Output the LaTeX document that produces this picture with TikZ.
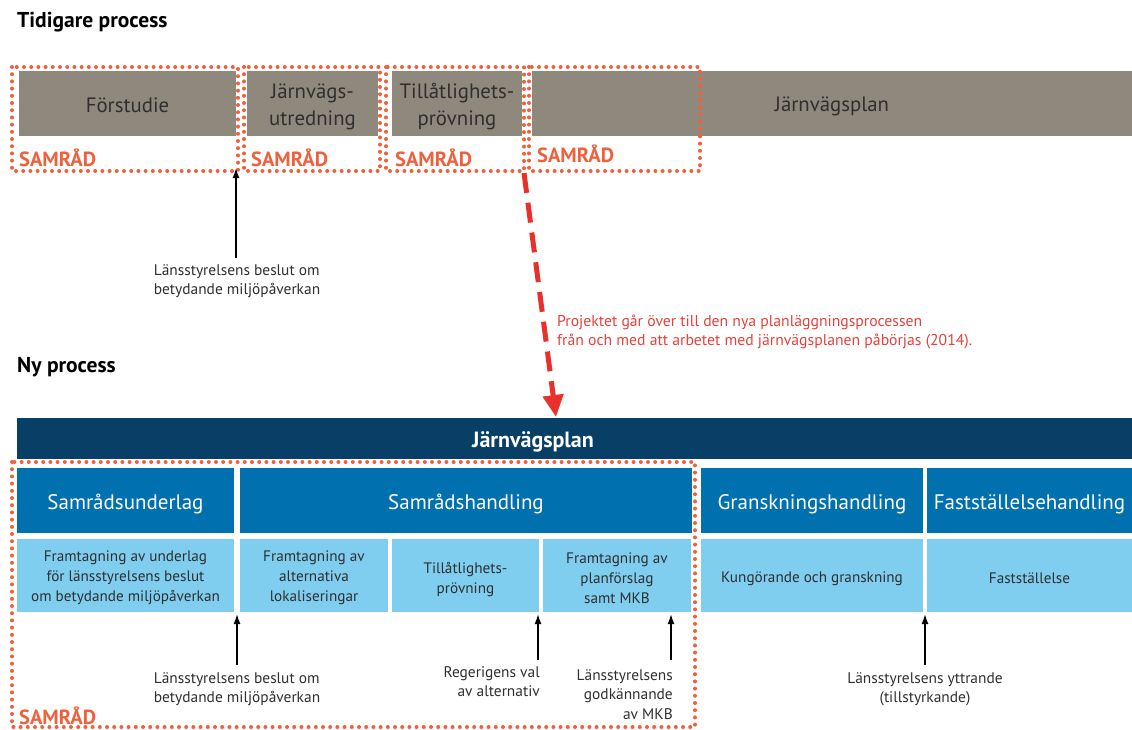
\documentclass[tikz,border=0pt]{standalone}
\usepackage{fontspec}
\setmainfont{PT Sans}
\usetikzlibrary{arrows.meta}
\definecolor{cgray}{HTML}{8F897D}
\definecolor{corange}{HTML}{F0603C}
\definecolor{cred}{HTML}{E8312A}
\definecolor{credtext}{HTML}{E8403A}
\definecolor{cnavy}{HTML}{073F66}
\definecolor{cmid}{HTML}{0071AE}
\definecolor{clight}{HTML}{7FCDEF}
\definecolor{ctext}{HTML}{2F2F2F}
\tikzset{
  graybox/.style={fill=cgray, inner sep=0pt, minimum height=65pt},
  graytext/.style={inner sep=0pt, text=ctext, align=center, font=\fontsize{20.8}{27}\selectfont},
  midbox/.style={fill=cmid, inner sep=0pt, minimum height=65pt},
  midtext/.style={inner sep=0pt, text=white, align=center, font=\fontsize{21}{24}\selectfont},
  lightbox/.style={fill=clight, inner sep=0pt, minimum height=73pt},
  lighttext/.style={inner sep=0pt, text=ctext, align=center, font=\fontsize{15.2}{20}\selectfont},
  dotbox/.style={draw=corange, line width=4pt, line cap=round, dash pattern=on 0pt off 7.2pt},
  samrad/.style={text=corange, font=\bfseries\fontsize{20.5}{22}\selectfont, anchor=west, inner sep=0pt},
  heading/.style={text=black, font=\bfseries\fontsize{21.5}{24}\selectfont, anchor=west, inner sep=0pt},
  lbl/.style={text=ctext, font=\fontsize{15.4}{19.5}\selectfont, inner sep=0pt},
  uparrow/.style={-{Latex[length=10pt,width=7pt]}, line width=1.6pt, black},
}
\begin{document}
\begin{tikzpicture}[x=1pt,y=-1pt]
\useasboundingbox (0,0) rectangle (1132,729);

% ---------- Tidigare process ----------
\node[heading] (h1) at (17,22) {Tidigare process};

\node[graybox, minimum width=217pt] (forst) at (127.5,103.5) {};
\node[graybox, minimum width=131pt] (jutr) at (312.5,103.5) {};
\node[graybox, minimum width=130pt] (till) at (457,103.5) {};
\node[graybox, minimum width=600pt] (jplan) at (832,103.5) {};
\node[graytext] (forstT) at ([yshift=-2pt]forst.center) {Förstudie};
\node[graytext] (jutrT) at ([yshift=-3pt]jutr.center) {Järnvägs-\\utredning};
\node[graytext] (tillT) at ([yshift=-3pt]till.center) {Tillåtlighets-\\prövning};
\node[graytext] (jplanT) at ([yshift=-3pt]jplan.center) {Järnvägsplan};

\draw[dotbox] (12,67) rectangle (238,171);
\draw[dotbox] (244,67) rectangle (380,171);
\draw[dotbox] (386,67) rectangle (524,171);
\draw[dotbox] (529,67) rectangle (700,171);

\node[samrad] (s1) at (19,158) {SAMRÅD};
\node[samrad] (s2) at (251,158) {SAMRÅD};
\node[samrad] (s3) at (395,158) {SAMRÅD};
\node[samrad] (s4) at (537,154) {SAMRÅD};

\node[lbl, align=left, anchor=north] (lb0) at (237,264) {Länsstyrelsens beslut om\\betydande miljöpåverkan};
\coordinate (t0) at (236,168);
\draw[uparrow] (236,258) -- (t0);

% ---------- transition ----------
\coordinate (rs) at (524,173);
\node[text=credtext, font=\fontsize{15.7}{19}\selectfont, align=left, anchor=north west, inner sep=0pt] (rtext) at (557,315)
  {Projektet går över till den nya planläggningsprocessen\\ från och med att arbetet med järnvägsplanen påbörjas (2014).};

% ---------- Ny process ----------
\node[heading] (h2) at (17,367) {Ny process};

\node[fill=cnavy, minimum width=1115pt, minimum height=41pt, inner sep=0pt] (bar) at (574.5,438.5) {};
\node[text=white, font=\bfseries\fontsize{22}{24}\selectfont, inner sep=0pt] (bartext) at (533,442) {Järnvägsplan};
\coordinate (rtip) at (556,417);
\draw[cred, line width=5pt, dash pattern=on 20pt off 10pt, -{Triangle[length=22pt,width=20pt]}] (rs) -- (rtip);

\node[midbox, minimum width=217pt] (su) at (125.5,500.5) {};
\node[midbox, minimum width=452pt] (sh) at (466,500.5) {};
\node[midbox, minimum width=222pt] (gh) at (812,500.5) {};
\node[midbox, minimum width=205pt] (fh) at (1029.5,500.5) {};
\node[midtext] (suT) at ([yshift=-3.5pt]su.center) {Samrådsunderlag};
\node[midtext] (shT) at ([yshift=-3.5pt]sh.center) {Samrådshandling};
\node[midtext] (ghT) at ([yshift=-3.5pt]gh.center) {Granskningshandling};
\node[midtext] (fhT) at ([yshift=-3.5pt]fh.center) {Fastställelsehandling};

\node[lightbox, minimum width=217pt] (l1) at (125.5,575.5) {};
\node[lightbox, minimum width=148pt] (l2) at (314,575.5) {};
\node[lightbox, minimum width=147pt] (l3) at (465.5,575.5) {};
\node[lightbox, minimum width=148pt] (l4) at (617,575.5) {};
\node[lightbox, minimum width=222pt] (l5) at (812,575.5) {};
\node[lightbox, minimum width=205pt] (l6) at (1029.5,575.5) {};
\node[lighttext] (l1T) at ([yshift=-2.5pt]l1.center) {Framtagning av underlag\\för länsstyrelsens beslut\\om betydande miljöpåverkan};
\node[lighttext] (l2T) at ([yshift=-2.5pt]l2.center) {Framtagning av\\alternativa\\lokaliseringar};
\node[lighttext] (l3T) at ([yshift=-4pt]l3.center) {Tillåtlighets-\\prövning};
\node[lighttext] (l4T) at ([yshift=-2.5pt]l4.center) {Framtagning av\\planförslag\\samt MKB};
\node[lighttext] (l5T) at ([yshift=-3pt]l5.center) {Kungörande och granskning};
\node[lighttext] (l6T) at ([yshift=-3pt]l6.center) {Fastställelse};

\draw[dotbox] (12,462) rectangle (695,727);
\node[samrad] (s5) at (19,716) {SAMRÅD};

\coordinate (b1) at (237,614);
\coordinate (b2) at (538,614);
\coordinate (b3) at (671,614);
\coordinate (b4) at (925,614);

\node[lbl, align=left, anchor=north] (lb1) at (237,672) {Länsstyrelsens beslut om\\betydande miljöpåverkan};
\node[lbl, align=right, anchor=north east] (lb2) at (540,666) {Regerigens val\\av alternativ};
\node[lbl, align=right, anchor=north east] (lb3) at (673,669) {Länsstyrelsens\\godkännande\\av MKB};
\node[lbl, align=center, anchor=north] (lb4) at (925,672) {Länsstyrelsens yttrande\\(tillstyrkande)};

\draw[uparrow] (237,665) -- (b1);
\draw[uparrow] (538,660) -- (b2);
\draw[uparrow] (671,660) -- (b3);
\draw[uparrow] (925,665) -- (b4);
\end{tikzpicture}
\end{document}
